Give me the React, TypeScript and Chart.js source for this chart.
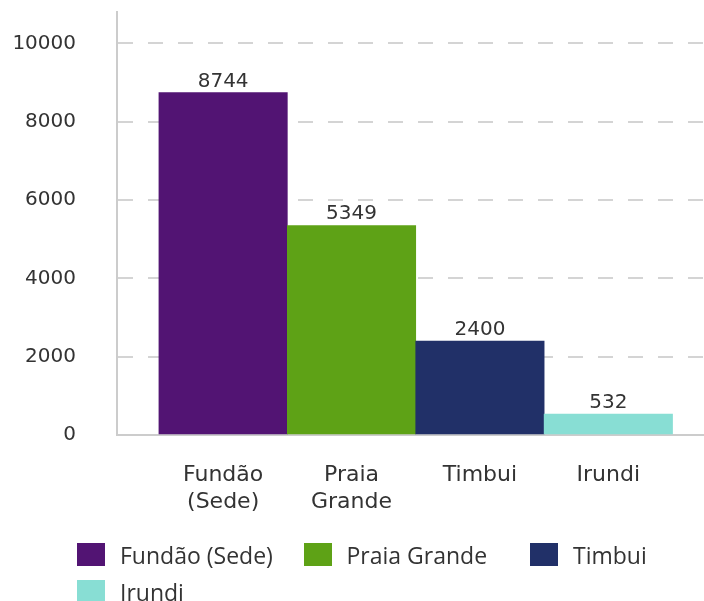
import React, { useEffect, useRef } from "react";
import { Chart, registerables } from "chart.js";

Chart.register(...registerables);

const categories: string[] = ["Fundão (Sede)", "Praia Grande", "Timbui", "Irundi"];
const tickLabels: string[][] = [["Fundão", "(Sede)"], ["Praia", "Grande"], ["Timbui"], ["Irundi"]];
const values: number[] = [8744, 5349, 2400, 532];
const colors: string[] = ["#521473", "#5ea216", "#213068", "#88ded4"];
const yTicks: number[] = [0, 2000, 4000, 6000, 8000, 10000];

const AXIS_FONT = "'DejaVu Sans', sans-serif";
const TEXT = "#333333";

const valueLabels = {
  id: "valueLabels",
  afterDatasetsDraw(chart: any) {
    const { ctx } = chart;
    const meta = chart.getDatasetMeta(0);
    ctx.save();
    ctx.font = `20px ${AXIS_FONT}`;
    ctx.fillStyle = TEXT;
    ctx.textAlign = "center";
    ctx.textBaseline = "alphabetic";
    meta.data.forEach((bar: any, i: number) => {
      ctx.fillText(String(values[i]), bar.x, bar.y - 6);
    });
    ctx.restore();
  },
};

export default function App() {
  const canvasRef = useRef<HTMLCanvasElement | null>(null);

  useEffect(() => {
    if (!canvasRef.current) return;
    const chart = new Chart(canvasRef.current, {
      type: "bar",
      data: {
        datasets: [
          {
            label: "Total",
            data: values.map((v, i) => ({ x: i, y: v })),
            backgroundColor: colors,
            borderWidth: 0,
            categoryPercentage: 1,
            barPercentage: 1,
          },
        ],
      },
      options: {
        animation: false,
        responsive: true,
        maintainAspectRatio: false,
        events: [],
        layout: { padding: { top: 12, left: 0, right: 0, bottom: 0 } },
        plugins: {
          legend: { display: false },
          tooltip: { enabled: false },
        },
        scales: {
          x: {
            type: "linear",
            offset: false,
            min: -0.8265,
            max: 3.745,
            bounds: "data",
            grid: { display: false, drawTicks: false, offset: false },
            border: { display: true, color: "#cccccc", width: 2 },
            afterBuildTicks: (scale: any) => {
              scale.ticks = categories.map((_, i) => ({ value: i }));
            },
            afterFit: (scale: any) => {
              scale.height = 166;
              scale.paddingLeft = 0;
              scale.paddingRight = 0;
            },
            ticks: {
              autoSkip: false,
              maxRotation: 0,
              minRotation: 0,
              padding: 27,
              color: TEXT,
              font: { family: AXIS_FONT, size: 22, lineHeight: "27px" },
              callback: (value: any) => tickLabels[Math.round(Number(value))] ?? "",
            },
          },
          y: {
            type: "linear",
            min: 0,
            max: 10800,
            bounds: "data",
            afterBuildTicks: (scale: any) => {
              scale.ticks = yTicks.map((v) => ({ value: v }));
            },
            afterFit: (scale: any) => {
              scale.width = 117;
              scale.paddingTop = 0;
              scale.paddingBottom = 0;
            },
            grid: {
              drawTicks: false,
              lineWidth: 2,
              color: (ctx: any) => (ctx.tick && ctx.tick.value === 0 ? "rgba(0,0,0,0)" : "#d4d4d4"),
            },
            border: { display: true, color: "#cccccc", width: 2, dash: [15, 15] },
            ticks: {
              padding: 41,
              color: TEXT,
              font: { family: AXIS_FONT, size: 20 },
              callback: (value: any) => String(value),
            },
          },
        },
      },
      plugins: [valueLabels],
    } as any);
    return () => chart.destroy();
  }, []);

  return (
    <div style={{ position: "absolute", left: 0, top: 0, width: 704, height: 601, background: "#fff" }}>
      <canvas ref={canvasRef} />
      <div
        style={{
          position: "absolute",
          left: 77,
          top: 536,
          display: "grid",
          gridTemplateColumns: "repeat(3, 226.5px)",
          gridAutoRows: "37px",
          fontFamily: "'Open Sans', sans-serif",
          fontSize: 23,
          color: TEXT,
        }}
      >
        {categories.map((c, i) => (
          <div key={c} style={{ display: "flex", alignItems: "center", whiteSpace: "nowrap" }}>
            <span
              style={{
                display: "inline-block",
                width: 28,
                height: 23,
                background: colors[i],
                marginRight: 15,
                flex: "none",
              }}
            />
            <span>{c}</span>
          </div>
        ))}
      </div>
    </div>
  );
}
